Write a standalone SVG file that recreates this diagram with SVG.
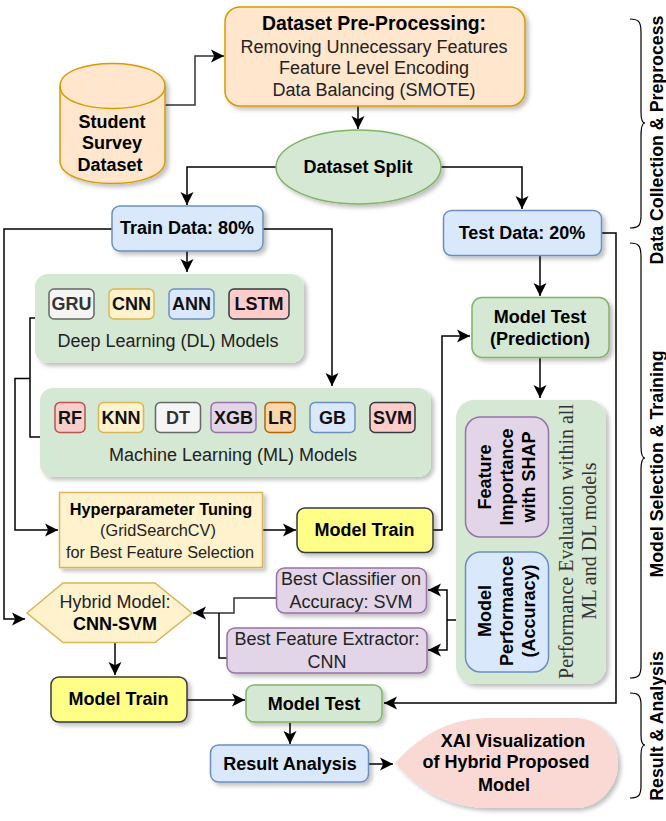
<svg xmlns="http://www.w3.org/2000/svg" width="666" height="821" viewBox="0 0 666 821">
<defs>
<filter id="sh" x="-15%" y="-20%" width="135%" height="140%"><feDropShadow dx="3" dy="3" stdDeviation="2" flood-color="#000" flood-opacity="0.25"/></filter>
<marker id="arr" markerUnits="userSpaceOnUse" markerWidth="14" markerHeight="14" refX="13" refY="7" orient="auto"><path d="M0 0.5L13 7L0 13.5L3.2 7Z" fill="#000"/></marker>
</defs>
<style>
text{font-family:"Liberation Sans",Arial,sans-serif;text-anchor:middle;fill:#000}
.b{font-weight:700;font-size:18px}
.r{font-size:18px;fill:#222}
.c{font-weight:700;font-size:18px;fill:#111}
.h{font-size:16.300px;fill:#222}
.sf{font-family:"Liberation Serif",serif;font-size:20px;fill:#333}
.s{filter:url(#sh)}
.n{stroke-width:1.5}
.line{fill:none;stroke:#000;stroke-width:1.5}
.arr{marker-end:url(#arr)}
.brace{fill:none;stroke:#000;stroke-width:1.2}
.side{font-weight:700;font-size:17.800px}
.blue{fill:#dae8fc;stroke:#6c8ebf}
.green{fill:#d5e8d4;stroke:#82b366}
.orange{fill:#ffe6cc;stroke:#d79b00}
.yel{fill:#fff2cc;stroke:#d6b656}
.pur{fill:#e1d5e7;stroke:#9673a6}
.gry{fill:#f5f5f5;stroke:#666}
.red{fill:#f8cecc;stroke:#b85450}
.lst{fill:#ffcccc;stroke:#36393d}
.lrc{fill:#fad7ac;stroke:#b46504}
.ylw{fill:#ffff88;stroke:#36393d}
</style>
<g id="connectors">
<path class="line arr" style="stroke:#333" d="M165 105H195V56H224"/>
<path class="line arr" d="M358 106V129"/>
<path class="line arr" d="M276 167H187V205"/>
<path class="line arr" d="M441 167H522V209"/>
<path class="line arr" d="M187 251V272"/>
<path class="line arr" d="M263 229H332V386"/>
<path class="line arr" d="M112 229H4V619H25"/>
<path class="line" d="M41 437H30V318H35"/>
<path class="line arr" d="M30 378.500H15V530H58"/>
<path class="line arr" d="M263 530H296"/>
<path class="line arr" d="M433 530H442V336H470"/>
<path class="line arr" d="M540 256V296"/>
<path class="line arr" d="M540 358V398"/>
<path class="line arr" d="M601 233H616V703H384"/>
<path class="line" d="M456 620H447"/>
<path class="line arr" d="M447 620V590H428"/>
<path class="line arr" d="M447 620V650H428"/>
<path class="line arr" style="stroke:#333" d="M276 598H234V613H193"/>
<path class="line" d="M227 658H219V613"/>
<path class="line arr" d="M115 643V675"/>
<path class="line arr" d="M187 700H245"/>
<path class="line arr" d="M290 723V744"/>
<path class="line arr" d="M369 764H393"/>
</g>
<g id="dataset">
<path class="orange n s" d="M60 86C60 56 165 56 165 86V161C165 191 60 191 60 161Z"/>
<path class="orange n" style="fill:none" d="M60 86C60 116 165 116 165 86"/>
<text class="b" x="112" y="128">Student</text><text class="b" x="112" y="149">Survey</text><text class="b" x="110" y="171">Dataset</text>
</g>
<g id="preprocess">
<rect class="orange n s" x="225" y="7" width="300" height="99" rx="15"/>
<text class="b" x="374" y="30" style="font-size:19.400px">Dataset Pre-Processing:</text>
<text class="r" x="374" y="53">Removing Unnecessary Features</text>
<text class="r" x="374" y="74">Feature Level Encoding</text>
<text class="r" x="374" y="96">Data Balancing (SMOTE)</text>
</g>
<g id="split"><ellipse class="green n s" cx="358.500" cy="167" rx="82.500" ry="37"/><text class="b" x="358" y="173">Dataset Split</text></g>
<g id="train"><rect class="blue n s" x="112" y="206" width="151" height="45" rx="8"/><text class="b" x="187" y="234">Train Data: 80%</text></g>
<g id="test"><rect class="blue n s" x="443.500" y="210.500" width="158" height="45" rx="8"/><text class="b" x="522" y="239">Test Data: 20%</text></g>
<g id="dl">
<rect class="s" style="fill:#d5e8d4" x="35" y="274" width="269" height="89" rx="13"/>
<rect class="gry n" x="49" y="289" width="45" height="30" rx="5"/><text class="c" x="71.500" y="310" style="fill:#333">GRU</text>
<rect class="yel n" x="109" y="289" width="45" height="30" rx="5"/><text class="c" x="131.500" y="310">CNN</text>
<rect class="blue n" x="169" y="289" width="45" height="30" rx="5"/><text class="c" x="191.500" y="310">ANN</text>
<rect class="lst n" x="229" y="289" width="60" height="30" rx="5"/><text class="c" x="259" y="310">LSTM</text>
<text class="r" x="168" y="347">Deep Learning (DL) Models</text>
</g>
<g id="ml">
<rect class="s" style="fill:#d5e8d4" x="40" y="388" width="391" height="89" rx="13"/>
<rect class="red n" x="55" y="402.500" width="30" height="30" rx="5"/><text class="c" x="70" y="424">RF</text>
<rect class="yel n" x="98.500" y="402.500" width="45" height="30" rx="5"/><text class="c" x="121" y="424">KNN</text>
<rect class="gry n" x="155.500" y="402.500" width="45" height="30" rx="5"/><text class="c" x="178" y="424" style="fill:#333">DT</text>
<rect class="pur n" x="211" y="402.500" width="45" height="30" rx="5"/><text class="c" x="233.500" y="424">XGB</text>
<rect class="lrc n" x="265" y="402.500" width="30" height="30" rx="5"/><text class="c" x="280" y="424">LR</text>
<rect class="blue n" x="310" y="402.500" width="45" height="30" rx="5"/><text class="c" x="332.500" y="424">GB</text>
<rect class="lst n" x="370" y="402.500" width="45" height="30" rx="5"/><text class="c" x="392.500" y="424">SVM</text>
<text class="r" x="233" y="461">Machine Learning (ML) Models</text>
</g>
<g id="hyper">
<rect class="yel n s" x="59.500" y="492.500" width="203" height="75"/>
<text class="h" x="161" y="515" style="font-weight:700;fill:#000">Hyperparameter Tuning</text>
<text class="h" x="158" y="536">(GridSearchCV)</text>
<text class="h" x="160" y="558">for Best Feature Selection</text>
</g>
<g id="train1"><rect class="ylw n s" x="297" y="508" width="136" height="44.500" rx="8"/><text class="b" x="364.500" y="536">Model Train</text></g>
<g id="predict">
<rect class="green n s" x="472" y="297.500" width="137" height="60" rx="10"/>
<text class="b" x="540" y="323">Model Test</text><text class="b" x="540" y="345">(Prediction)</text>
</g>
<g id="eval">
<rect class="s" style="fill:#d5e8d4" x="456" y="400" width="150" height="284" rx="18"/>
<g id="shap"><rect class="pur n" x="465.500" y="417" width="83" height="120" rx="15"/>
<text class="b" transform="translate(491 477) rotate(-90)">Feature</text>
<text class="b" transform="translate(513 477) rotate(-90)">Importance</text>
<text class="b" transform="translate(535 477) rotate(-90)">with SHAP</text></g>
<g id="perf"><rect class="blue n" x="465.500" y="552" width="83" height="120" rx="15"/>
<text class="b" transform="translate(491 611) rotate(-90)">Model</text>
<text class="b" transform="translate(513 611) rotate(-90)">Performance</text>
<text class="b" transform="translate(535 611) rotate(-90)">(Accuracy)</text></g>
<text class="sf" transform="translate(573 541.500) rotate(-90)">Performance Evaluation within all</text>
<text class="sf" transform="translate(596 541) rotate(-90)">ML and DL models</text>
</g>
<g id="classifier">
<rect class="pur n s" x="276.500" y="568" width="150" height="45" rx="8"/>
<text class="r" x="351" y="585">Best Classifier on</text><text class="r" x="351" y="608">Accuracy: SVM</text>
</g>
<g id="extractor">
<rect class="pur n s" x="227" y="628" width="200" height="45" rx="8"/>
<text class="r" x="327" y="645">Best Feature Extractor:</text><text class="r" x="327" y="668">CNN</text>
</g>
<g id="hybrid">
<path class="yel n" d="M27 613L63 583H155L192 613L155 642.500H63Z"/>
<text class="r" x="115" y="608">Hybrid Model:</text><text class="b" x="115" y="630">CNN-SVM</text>
</g>
<g id="train2"><rect class="ylw n s" x="51" y="677" width="136" height="45" rx="8"/><text class="b" x="118.500" y="705">Model Train</text></g>
<g id="mtest"><rect class="green n s" x="246" y="685" width="136" height="37" rx="8"/><text class="b" x="314" y="710">Model Test</text></g>
<g id="result"><rect class="blue n s" x="210.500" y="745" width="158" height="37" rx="8"/><text class="b" x="290" y="770">Result Analysis</text></g>
<g id="xai">
<path class="s" style="fill:#fad9d5" d="M395 763C420 735 450 718 490 718H575C600 718 618 740 618 763C618 786 600 808 575 808H490C450 808 420 791 395 763Z"/>
<text class="b" x="513" y="747">XAI Visualization</text><text class="b" x="506" y="768">of Hybrid Proposed</text><text class="b" x="504" y="791">Model</text>
</g>
<g id="braces">
<path class="brace" d="M630 19C638 19 641 21 641 32V112C641 120 642 123 645 123C642 123 641 127 641 136V216C641 226 638 228 630 228"/>
<path class="brace" d="M630 243C638 243 641 245 641 257V446C641 454 642 458 645 458C642 458 641 462 641 470V666C641 676 638 678 630 678"/>
<path class="brace" d="M630 693C638 693 641 695 641 705V735C641 741 642 745 645 745C642 745 641 749 641 755V786C641 796 638 798 630 798"/>
<text class="side" transform="translate(663 140) rotate(-90)">Data Collection &amp; Preprocess</text>
<text class="side" transform="translate(663 464) rotate(-90)">Model Selection &amp; Training</text>
<text class="side" transform="translate(663 726) rotate(-90)">Result &amp; Analysis</text>
</g>
</svg>
